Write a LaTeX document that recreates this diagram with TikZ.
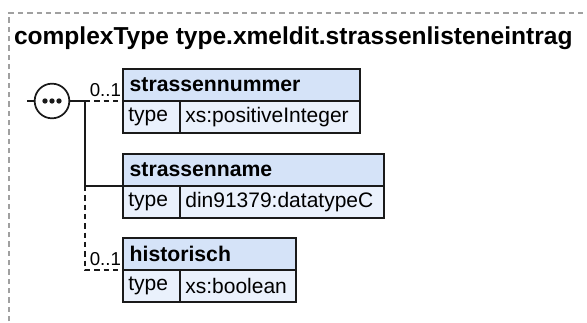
\documentclass[tikz,border=0pt]{standalone}
\usepackage{fontspec}
\setmainfont{Liberation Sans}
\usepackage{xcolor}
\usetikzlibrary{positioning,calc}
\definecolor{XHead}{HTML}{D5E3F8}
\definecolor{XRow}{HTML}{EAF1FC}
\definecolor{XLine}{HTML}{1A1A1A}
\definecolor{XFrame}{HTML}{A0A0A0}

\begin{document}
\begin{tikzpicture}[x=0.75pt, y=-0.75pt,
  every node/.style={inner sep=0pt, outer sep=0pt, align=left},
  ehead/.style={draw=XLine, line width=1.2pt, fill=XHead, anchor=north west,
               minimum height=24pt, inner xsep=5pt, font=\bfseries\fontsize{15.9}{18}\selectfont},
  ecell/.style={draw=XLine, line width=1.2pt, fill=XRow, anchor=north west,
               minimum height=24pt, inner xsep=4pt, font=\fontsize{15.75}{18}\selectfont},
  conn/.style={draw=XLine, line width=1.4pt},
  opt/.style={dash pattern=on 4pt off 3pt},
  occ/.style={anchor=base east, font=\fontsize{14}{16}\selectfont}]
\useasboundingbox (0,0) rectangle (587,323);
\draw[XFrame, line width=0.8pt, dash pattern=on 4pt off 3pt] (9,340) -- (9,13) -- (600,13);
\node[anchor=base west, font=\bfseries\fontsize{18.4}{22}\selectfont] (title) at (14,45) {complexType type.xmeldit.strassenlisteneintrag};

\node[draw=XLine, line width=1.3pt, fill=white, circle, minimum size=26pt] (seq) at (52,101) {};
\foreach \dx in {-7,0,7} \fill[XLine] ($(seq)+(\dx,0)$) circle (2pt);
\coordinate (in) at (27,101);
\coordinate (fork) at (85,101);

\node[ehead, text width=167.75pt] (num) at (123,69) {strassennummer};
\node[ecell, text width=34.75pt] (numt) at (num.south west) {type};
\node[ecell, text width=127pt] (numv) at (numt.north east) {xs:positiveInteger};

\node[ehead, text width=185.75pt] (name) at (123,154) {strassenname};
\node[ecell, text width=34.75pt] (namet) at (name.south west) {type};
\node[ecell, text width=145pt] (namev) at (namet.north east) {din91379:datatypeC};

\node[ehead, text width=119.75pt] (hist) at (123,238) {historisch};
\node[ecell, text width=34.75pt] (histt) at (hist.south west) {type};
\node[ecell, text width=79pt] (histv) at (histt.north east) {xs:boolean};

\draw[conn] (in) -- (seq.west);
\draw[conn] (seq.east) -- (fork);
\draw[conn, opt] (fork) -- (num.south west);
\draw[conn] (fork) |- (name.south west);
\draw[conn, opt] (fork |- name.south west) |- (hist.south west);
\node[occ] (occnum) at (121,97) {0..1};
\node[occ] (occhist) at (121,266) {0..1};
\end{tikzpicture}
\end{document}
